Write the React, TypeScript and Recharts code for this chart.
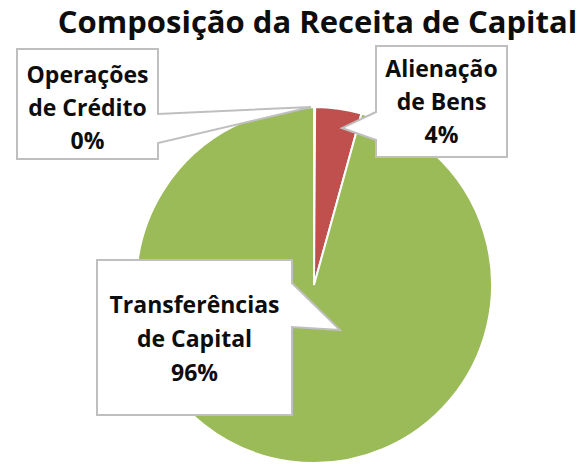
import { Cell, Pie, PieChart } from 'recharts'

// slice order is clockwise from 12 o'clock
const categories = ['Operações de Crédito', 'Alienação de Bens', 'Transferências de Capital']
const shares = [0.1, 4.2, 95.7]
const labelLines = [
  ['Operações', 'de Crédito', '0%'],
  ['Alienação', 'de Bens', '4%'],
  ['Transferências', 'de Capital', '96%'],
]

const colors = ['#4F81BD', '#C0504D', '#9BBB59']

const data = categories.map((name, i) => ({ name, value: shares[i] }))

const FONT = '"Open Sans", sans-serif'

// callout boxes (layout only): box, side of the pointer, pointer base y's, tip offset from center,
// baseline of the middle text line
const callouts = [
  { x: 17, y: 49, w: 141, h: 110, side: 'right', y1: 114, y2: 143, tip: [-3, -178], ty: 116, lh: 33 },
  { x: 376, y: 46, w: 131, h: 111, side: 'left', y1: 112, y2: 140, tip: [28, -157], ty: 110, lh: 33 },
  { x: 97, y: 260, w: 195, h: 155, side: 'right', y1: 283, y2: 327, tip: [26, 45], ty: 347, lh: 34 },
]

function calloutPath(c: (typeof callouts)[number], tx: number, ty: number) {
  const r = c.x + c.w
  const b = c.y + c.h
  if (c.side === 'right') {
    return `M${c.x},${c.y} H${r} V${c.y1} L${tx},${ty} L${r},${c.y2} V${b} H${c.x} Z`
  }
  return `M${c.x},${c.y} H${r} V${b} H${c.x} V${c.y2} L${tx},${ty} L${c.x},${c.y1} Z`
}

function renderCallout(props: any) {
  const { cx, cy, index } = props
  const c = callouts[index]
  const tx = cx + c.tip[0]
  const ty = cy + c.tip[1]
  const lines = labelLines[index]
  const mid = c.x + c.w / 2
  return (
    <g key={`callout-${index}`}>
      <path d={calloutPath(c, tx, ty)} fill="#fff" stroke="#BFBFBF" strokeWidth={2} />
      {lines.map((t, i) => (
        <text
          key={t}
          x={mid}
          y={c.ty + (i - 1) * c.lh}
          textAnchor="middle"
          fontFamily={FONT}
          fontWeight={700}
          fontSize={23}
          fill="#0d0d0d"
        >
          {t}
        </text>
      ))}
    </g>
  )
}

export default function App() {
  return (
    <div style={{ position: 'absolute', left: 0, top: 0, width: 580, height: 464, background: '#fff' }}>
      <div
        style={{
          position: 'absolute',
          left: 0,
          top: 0,
          width: 635,
          textAlign: 'center',
          fontFamily: FONT,
          fontWeight: 700,
          fontSize: 31,
          lineHeight: '42px',
          color: '#0d0d0d',
          whiteSpace: 'nowrap',
        }}
      >
        Composição da Receita de Capital
      </div>
      <PieChart
        width={580}
        height={464}
        margin={{ top: 0, right: 0, bottom: 0, left: 0 }}
        style={{ position: 'absolute', left: 0, top: 0 }}
      >
        <Pie
          data={data}
          dataKey="value"
          nameKey="name"
          cx={314}
          cy={285}
          outerRadius={178}
          startAngle={90}
          endAngle={-270}
          stroke="#fff"
          strokeWidth={2}
          label={renderCallout}
          labelLine={false}
          isAnimationActive={false}
        >
          {data.map((d, i) => (
            <Cell key={d.name} fill={colors[i]} />
          ))}
        </Pie>
      </PieChart>
    </div>
  )
}
